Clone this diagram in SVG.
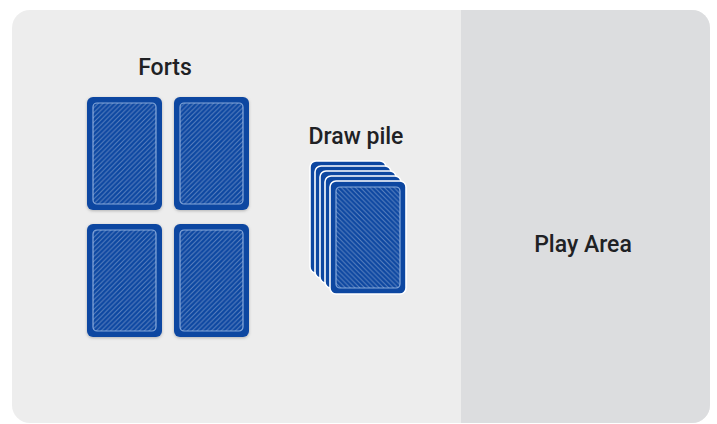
<svg xmlns="http://www.w3.org/2000/svg" width="717" height="424" viewBox="0 0 717 424">
  <defs>
    <style>
      .lbl { font-family: Roboto, "Liberation Sans", sans-serif; font-weight: 500; font-size: 23px; fill: #202124; text-anchor: middle; }
      .card-outer { fill: #0d47a1; }
      .card-inner { stroke: #a3bfe9; stroke-opacity: 0.8; stroke-width: 1.2; }
      .pile-back { fill: #0d47a1; stroke: #ffffff; stroke-width: 1.6; }
      .stripe { stroke: #ffffff; stroke-opacity: 0.32; stroke-width: 1; fill: none; }
    </style>
    <pattern id="stripesR" patternUnits="userSpaceOnUse" width="4.8" height="4.8">
      <rect width="4.8" height="4.8" fill="#0d47a1"/>
      <path class="stripe" d="M-1,1 L1,-1 M0,4.8 L4.8,0 M3.8,5.8 L5.8,3.8"/>
    </pattern>
    <pattern id="stripesL" patternUnits="userSpaceOnUse" width="4.8" height="4.8">
      <rect width="4.8" height="4.8" fill="#0d47a1"/>
      <path class="stripe" d="M0,0 L4.8,4.8 M-1,3.8 L1,5.8 M3.8,-1 L5.8,1"/>
    </pattern>
    <filter id="shadow" x="-20%" y="-20%" width="140%" height="140%">
      <feDropShadow dx="0" dy="1" stdDeviation="1.5" flood-color="#000" flood-opacity="0.25"/>
    </filter>
    <clipPath id="board">
      <rect x="12" y="10" width="698" height="413" rx="18"/>
    </clipPath>
  </defs>

  <g id="board-bg">
    <rect x="12" y="10" width="698" height="413" rx="18" fill="#ededed"/>
  </g>
  <g id="play-area">
    <rect x="461" y="10" width="249" height="413" fill="#dcdddf" clip-path="url(#board)"/>
    <text class="lbl" x="583" y="252">Play Area</text>
  </g>

  <g id="forts">
    <text class="lbl" x="165" y="75">Forts</text>
    <g id="fort-1" filter="url(#shadow)">
      <rect class="card-outer" x="87" y="97" width="75" height="113" rx="6"/>
      <rect class="card-inner" x="93" y="103" width="63" height="101" rx="4" fill="url(#stripesR)"/>
    </g>
    <g id="fort-2" filter="url(#shadow)">
      <rect class="card-outer" x="174" y="97" width="75" height="113" rx="6"/>
      <rect class="card-inner" x="180" y="103" width="63" height="101" rx="4" fill="url(#stripesR)"/>
    </g>
    <g id="fort-3" filter="url(#shadow)">
      <rect class="card-outer" x="87" y="224" width="75" height="113" rx="6"/>
      <rect class="card-inner" x="93" y="230" width="63" height="101" rx="4" fill="url(#stripesR)"/>
    </g>
    <g id="fort-4" filter="url(#shadow)">
      <rect class="card-outer" x="174" y="224" width="75" height="113" rx="6"/>
      <rect class="card-inner" x="180" y="230" width="63" height="101" rx="4" fill="url(#stripesR)"/>
    </g>
  </g>

  <g id="draw-pile">
    <text class="lbl" x="356" y="144">Draw pile</text>
    <rect class="pile-back" x="310" y="161" width="76" height="112" rx="6"/>
    <rect class="pile-back" x="315" y="166" width="76" height="112" rx="6"/>
    <rect class="pile-back" x="320" y="171" width="76" height="112" rx="6"/>
    <rect class="pile-back" x="325" y="176" width="76" height="112" rx="6"/>
    <rect class="pile-back" x="330" y="181" width="76" height="113" rx="6"/>
    <rect class="card-inner" x="336" y="187" width="64" height="101" rx="4" fill="url(#stripesL)"/>
  </g>
</svg>
